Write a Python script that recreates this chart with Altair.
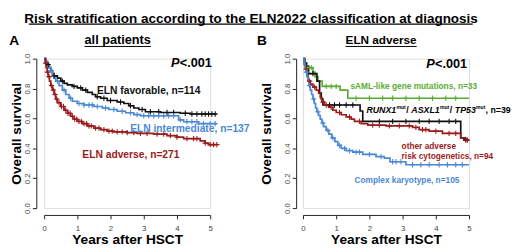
import altair as alt
import pandas as pd

# ---------------- data ----------------
# Panel A: all patients  (time in years, overall survival)
fav = [(0, 1.0), (0.05, 0.98), (0.1, 0.96), (0.15, 0.94), (0.2, 0.92), (0.25, 0.90), (0.3, 0.885),
       (0.4, 0.87), (0.5, 0.85), (0.6, 0.835), (0.7, 0.825), (0.85, 0.815), (1.0, 0.805), (1.15, 0.79),
       (1.3, 0.775), (1.45, 0.76), (1.55, 0.745), (1.7, 0.735), (1.9, 0.72), (2.2, 0.71), (2.4, 0.70),
       (2.55, 0.685), (2.7, 0.67), (2.85, 0.66), (3.05, 0.645), (3.5, 0.64), (4.1, 0.635), (4.4, 0.63),
       (5.2, 0.63)]
inter = [(0, 1.0), (0.05, 0.98), (0.1, 0.96), (0.15, 0.94), (0.2, 0.92), (0.25, 0.895), (0.3, 0.87),
         (0.35, 0.85), (0.45, 0.82), (0.55, 0.79), (0.65, 0.76), (0.75, 0.735), (0.85, 0.715), (1.0, 0.70),
         (1.2, 0.69), (1.5, 0.68), (1.75, 0.67), (1.95, 0.66), (2.2, 0.648), (2.45, 0.638), (2.7, 0.626),
         (2.9, 0.618), (4.05, 0.59), (4.2, 0.578), (4.65, 0.565), (5.2, 0.565)]
adv = [(0, 1.0), (0.03, 0.97), (0.06, 0.94), (0.09, 0.91), (0.12, 0.88), (0.16, 0.85), (0.2, 0.82),
       (0.25, 0.79), (0.3, 0.76), (0.35, 0.73), (0.4, 0.705), (0.5, 0.68), (0.6, 0.655), (0.7, 0.635),
       (0.8, 0.615), (0.9, 0.595), (1.0, 0.58), (1.15, 0.565), (1.3, 0.55), (1.5, 0.535), (1.7, 0.525),
       (1.9, 0.515), (2.1, 0.51), (2.5, 0.505), (2.8, 0.50), (3.3, 0.495), (3.7, 0.485), (4.0, 0.475),
       (4.2, 0.465), (4.7, 0.45), (4.85, 0.435), (4.95, 0.425), (5.2, 0.425)]
fav_cens = [0.12, 0.3, 0.55, 0.9, 1.1, 1.25, 1.6, 1.8, 2.0, 2.3, 2.6, 2.95, 3.2, 3.45, 3.7, 3.9,
            4.25, 4.45, 4.6, 4.75, 4.85, 4.95, 5.05, 5.15]
inter_cens = [0.2, 0.4, 0.6, 0.8, 1.05, 1.2, 1.35, 1.45, 1.6, 1.85, 2.1, 2.35, 2.6, 2.8, 3.0, 3.15,
              3.3, 3.45, 3.6, 3.75, 3.9, 4.1, 4.3, 4.45, 4.6, 4.8, 5.0, 5.15]
adv_cens = [0.05, 0.1, 0.15, 0.22, 0.28, 0.33, 0.38, 0.45, 0.52, 0.58, 0.65, 0.72, 0.78, 0.85, 0.92,
            0.98, 1.05, 1.12, 1.2, 1.28, 1.35, 1.42, 1.55, 1.65, 1.8, 1.95, 2.05, 2.2, 2.35, 2.5, 2.7,
            2.9, 3.1, 3.4, 3.6, 3.8, 4.0, 4.3, 4.5, 4.6, 4.85, 5.0, 5.1, 5.2]

# Panel B: ELN adverse subgroups
saml = [(0, 1.0), (0.05, 0.97), (0.12, 0.94), (0.3, 0.91), (0.36, 0.88), (0.45, 0.85), (0.58, 0.815),
        (1.12, 0.79), (1.35, 0.735), (5.0, 0.735)]
runx = [(0, 1.0), (0.05, 0.97), (0.1, 0.95), (0.17, 0.90), (0.42, 0.85), (0.5, 0.77), (0.55, 0.73),
        (0.6, 0.69), (1.72, 0.65), (1.8, 0.58), (4.75, 0.47), (4.85, 0.46), (4.95, 0.46)]
other = [(0, 1.0), (0.04, 0.96), (0.08, 0.93), (0.12, 0.89), (0.16, 0.85), (0.22, 0.83), (0.3, 0.81),
         (0.4, 0.79), (0.47, 0.77), (0.52, 0.74), (0.57, 0.71), (0.65, 0.69), (0.77, 0.675), (0.9, 0.655),
         (1.0, 0.64), (1.15, 0.625), (1.3, 0.61), (1.45, 0.595), (1.55, 0.58), (1.75, 0.565), (1.95, 0.555),
         (2.5, 0.55), (3.3, 0.54), (3.5, 0.525), (3.8, 0.515), (4.2, 0.50), (4.75, 0.47), (4.85, 0.455),
         (5.0, 0.455)]
cplx = [(0, 1.0), (0.03, 0.97), (0.06, 0.94), (0.09, 0.91), (0.12, 0.88), (0.15, 0.85), (0.18, 0.82),
        (0.22, 0.79), (0.26, 0.76), (0.3, 0.73), (0.34, 0.70), (0.38, 0.67), (0.42, 0.645), (0.47, 0.62),
        (0.52, 0.595), (0.57, 0.57), (0.62, 0.545), (0.7, 0.52), (0.78, 0.495), (0.87, 0.47), (0.96, 0.445),
        (1.05, 0.42), (1.15, 0.40), (1.3, 0.385), (1.5, 0.375), (1.8, 0.36), (2.2, 0.345), (2.45, 0.335),
        (2.62, 0.31), (3.1, 0.29), (5.0, 0.29)]
saml_cens = [0.15, 0.25, 0.7, 0.85, 1.0, 1.6, 2.0, 2.4, 2.7, 3.1, 3.5, 3.9, 4.3, 4.6]
runx_cens = [0.3, 0.8, 0.95, 1.1, 1.3, 1.5, 2.3, 2.7, 3.1, 3.5, 3.8, 4.1, 4.4, 4.6, 4.9]
other_cens = [0.1, 0.2, 0.35, 0.6, 0.7, 0.85, 1.1, 1.4, 1.7, 2.1, 2.3, 2.6, 2.9, 3.2, 3.4, 3.6, 3.7,
              4.0, 4.4, 4.6, 4.9, 4.95]
cplx_cens = [0.1, 0.2, 0.32, 0.45, 0.6, 0.75, 0.9, 1.1, 1.25, 1.4, 1.6, 1.7, 2.0, 2.35, 2.7, 2.8,
             2.95, 3.3, 3.55, 3.8, 4.1, 4.35, 4.6, 4.8]

groups = ["fav", "inter", "adv", "saml", "runx", "other", "cplx"]
colors = ["#111111", "#4a88d6", "#9b1b1b", "#5aad32", "#111111", "#9b1b1b", "#4a88d6"]

# curve labels: text, group, t, survival
labels_A = [("ELN favorable, n=114", "fav", 1.59, 0.784),
            ("ELN intermediate, n=137", "inter", 2.59, 0.529),
            ("ELN adverse, n=271", "adv", 1.15, 0.353)]
labels_B = [("sAML-like gene mutations, n=33", "saml", 1.43, 0.815),
            ("other adverse", "other", 2.97, 0.418),
            ("risk cytogenetics, n=94", "other", 2.97, 0.348),
            ("Complex karyotype, n=105", "cplx", 1.55, 0.185)]
runx_label_pos = (1.91, 0.654)
pval_A = (3.82, 0.941)
pval_B = (3.71, 0.935)

x_ticks = [0, 1, 2, 3, 4, 5]
y_ticks = [0.0, 0.2, 0.4, 0.6, 0.8, 1.0]

FONT = "Liberation Sans"
W, H = 170, 153


def step_at(pairs, c):
    v = pairs[0][1]
    for t, s in pairs:
        if t <= c:
            v = s
    return v


def curves(items):
    rows = []
    for g, pairs in items:
        for t, s in pairs:
            rows.append({"group": g, "t": t, "s": s})
    return pd.DataFrame(rows)


def censors(items):
    rows = []
    for g, pairs, times in items:
        for c in times:
            rows.append({"group": g, "t": c, "s": step_at(pairs, c)})
    return pd.DataFrame(rows)


color = alt.Color("group:N", scale=alt.Scale(domain=groups, range=colors), legend=None)


def xenc():
    return alt.X("t:Q", scale=alt.Scale(domain=[0, 5], nice=False, zero=False),
                 axis=alt.Axis(values=x_ticks, format="d", title="Years after HSCT", offset=7,
                               tickSize=4, labelPadding=6, titlePadding=0, grid=False,
                               labelOverlap=False, labelFlush=False, labelBound=False,
                               domainColor="#222", tickColor="#222", labelColor="#444",
                               labelFontSize=8, labelFont=FONT, titleFont=FONT,
                               titleFontSize=14, titleFontWeight="bold", titleColor="#000"))


def yenc(offset, tpad):
    return alt.Y("s:Q", scale=alt.Scale(domain=[0, 1], nice=False),
                 axis=alt.Axis(values=y_ticks, format=".1f", title="Overall survival", offset=offset,
                               tickSize=4, labelPadding=1, labelAngle=270, labelAlign="center",
                               labelBaseline="bottom", titlePadding=tpad, grid=False,
                               labelOverlap=False, labelFlush=False, labelBound=False,
                               domainColor="#222", tickColor="#222", labelColor="#444",
                               labelFontSize=8, labelFont=FONT, titleFont=FONT,
                               titleFontSize=14, titleFontWeight="bold", titleColor="#000"))


def build_panel(curve_items, cens_items, labels, label_size, pval, yoff, tpad):
    X = xenc()
    Y = yenc(yoff, tpad)
    out = []
    out.append(alt.Chart(curves(curve_items)).mark_line(
        interpolate="step-after", strokeWidth=1.7, clip=False
    ).encode(x=X, y=Y, color=color, detail="group:N"))
    out.append(alt.Chart(censors(cens_items)).mark_point(
        shape="M-1,0L1,0M0,-1L0,1", size=30, filled=False, strokeWidth=1.1, opacity=1, clip=False
    ).encode(x=X, y=Y, color=color))
    ldf = pd.DataFrame(labels, columns=["text", "group", "t", "s"])
    out.append(alt.Chart(ldf).mark_text(
        align="left", baseline="middle", font=FONT, fontWeight="bold", fontSize=label_size
    ).encode(x=X, y=Y, text="text:N", color=color))
    pdf = pd.DataFrame({"t": [pval[0]], "s": [pval[1]]})
    out.append(alt.Chart(pdf).mark_text(
        text="P", align="left", baseline="alphabetic", font=FONT, fontWeight="bold",
        fontStyle="italic", fontSize=13, color="#000").encode(x=X, y=Y))
    out.append(alt.Chart(pdf).mark_text(
        text="<.001", align="left", baseline="alphabetic", font=FONT, fontWeight="bold",
        fontSize=13, dx=9, color="#000").encode(x=X, y=Y))
    return out, X, Y


def deco_text(txt, x, y, size, align="left", baseline="alphabetic"):
    return alt.Chart(pd.DataFrame({"v": [txt]})).mark_text(
        align=align, baseline=baseline, font=FONT, fontWeight="bold", fontSize=size, color="#000"
    ).encode(x=alt.value(x), y=alt.value(y), text="v:N")


def deco_rule(x1, x2, y, w=1.2):
    return alt.Chart(pd.DataFrame({"v": [0]})).mark_rule(color="#000", strokeWidth=w).encode(
        x=alt.value(x1), x2=alt.value(x2), y=alt.value(y))


# ---------------- panel A ----------------
main_title = "Risk stratification according to the ELN2022 classification at diagnosis"
layers_A, XA, YA = build_panel(
    [("fav", fav), ("inter", inter), ("adv", adv)],
    [("fav", fav, fav_cens), ("inter", inter, inter_cens), ("adv", adv, adv_cens)],
    labels_A, 10.5, pval_A, 8, 0)
layers_A += [
    deco_text(main_title, 211.8, -48, 13.8, align="center", baseline="top"),
    deco_rule(-15.7, 438.8, -35.3),
    deco_text("A", -35.7, -14, 14),
    deco_text("all patients", 75.3, -15, 13, align="center"),
    deco_rule(41.3, 109.3, -12.5, 1.0),
]
panel_A = alt.layer(*layers_A).properties(width=W, height=H)

# ---------------- panel B ----------------
layers_B, XB, YB = build_panel(
    [("saml", saml), ("runx", runx), ("other", other), ("cplx", cplx)],
    [("saml", saml, saml_cens), ("runx", runx, runx_cens),
     ("other", other, other_cens), ("cplx", cplx, cplx_cens)],
    labels_B, 8.5, pval_B, 7, 10)

runx_df = pd.DataFrame({"t": [runx_label_pos[0]], "s": [runx_label_pos[1]]})
segments = [("RUNX1", 0, 9, "italic", 0), ("mut", 30.8, 5.2, "normal", -3.5), ("/ ", 40.8, 9, "normal", 0),
            ("ASXL1", 46, 9, "italic", 0), ("mut", 75.3, 5.2, "normal", -3.5), ("/ ", 85.3, 9, "normal", 0),
            ("TP53", 90.5, 9, "italic", 0), ("mut", 112.3, 5.2, "normal", -3.5),
            (", n=39", 122, 9, "normal", 0)]
for txt, dx, fs, style, dy in segments:
    layers_B.append(alt.Chart(runx_df).mark_text(
        text=txt, align="left", baseline="middle", font=FONT, fontWeight="bold", fontStyle=style,
        fontSize=fs, dx=dx, dy=dy, color="#000").encode(x=XB, y=YB))

layers_B += [
    deco_text("B", -47, -14, 14),
    deco_text("ELN adverse", 80, -15, 12, align="center"),
    deco_rule(43.6, 116.4, -12.5, 1.0),
]
panel_B = alt.layer(*layers_B).properties(width=W, height=H)

chart = alt.hconcat(panel_A, panel_B, spacing=95, bounds="flush").properties(
    padding={"left": 0, "top": 0, "right": 0, "bottom": 0}
).configure_view(stroke="transparent").configure_axis(
    labelOverlap=False, labelFlush=False
).configure(background="white")

chart.save("out.html", embed_options={"renderer": "svg", "actions": False})
